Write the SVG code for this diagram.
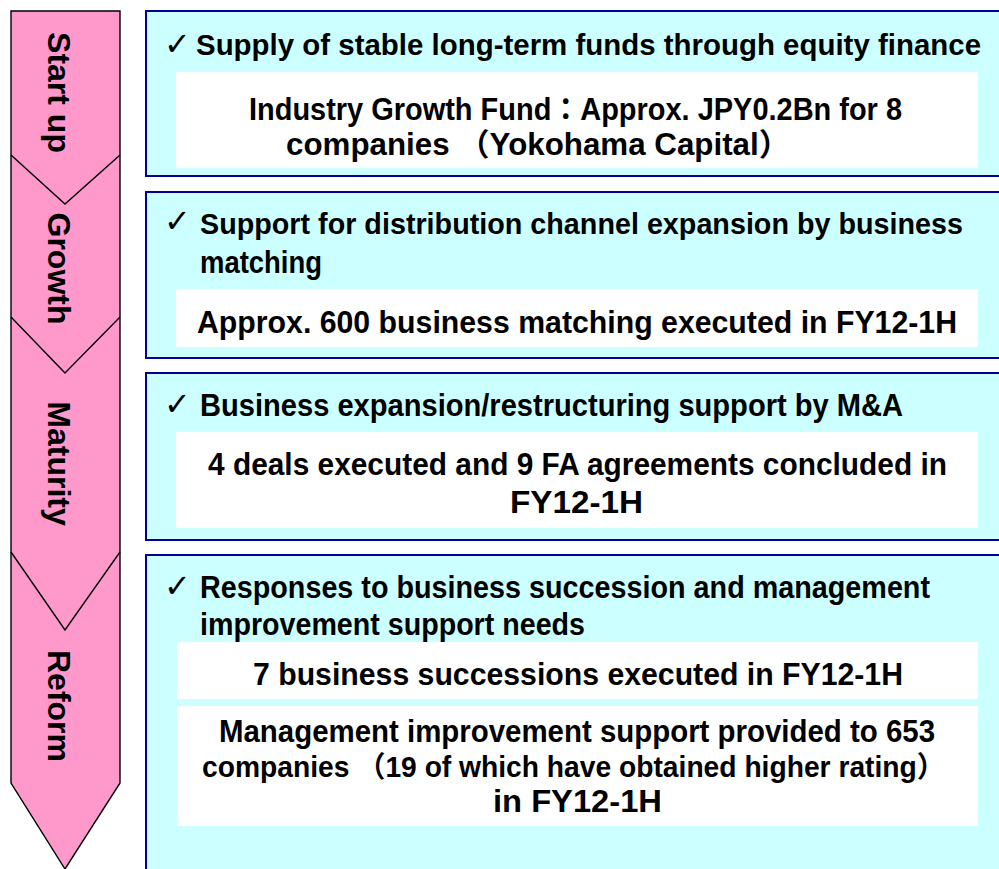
<svg xmlns="http://www.w3.org/2000/svg" width="999" height="869" viewBox="0 0 999 869">
<style>
.stage{fill:#FF99CC;stroke:#000;stroke-width:1.4;stroke-linejoin:miter}
.sep{fill:none;stroke:#000;stroke-width:1.4}
.lbl{font-family:"Liberation Sans",Arial,sans-serif;font-weight:bold;font-size:32px;fill:#000;text-anchor:middle}
.box{fill:#CCFFFF;stroke:#000099;stroke-width:2}
.inner{fill:#FFFFFF;stroke:none}
.t{font-family:"Liberation Sans","Noto Sans CJK JP",Arial,sans-serif;font-weight:bold;font-size:31px;fill:#000}
.s{font-size:29px}
.chk{font-family:"DejaVu Sans",sans-serif;font-size:32px;fill:#000}
</style>
<rect width="999" height="869" fill="#FFFFFF"/>
<g id="stages">
<polygon class="stage" points="11,11 120,11 120,783 65,869 11,783"/>
<polyline class="sep" points="11,155 65,204 120,155"/>
<polyline class="sep" points="11,317 65,373 120,317"/>
<polyline class="sep" points="11,552 65,630 120,552"/>
</g>
<g id="stage-startup"><text class="lbl" transform="translate(48,92.5) rotate(90)">Start up</text></g>
<g id="stage-growth"><text class="lbl" transform="translate(48,268.5) rotate(90)">Growth</text></g>
<g id="stage-maturity"><text class="lbl" transform="translate(48,463.5) rotate(90)">Maturity</text></g>
<g id="stage-reform"><text class="lbl" transform="translate(48,706) rotate(90)">Reform</text></g>
<g id="connectors"></g>
<g id="box-startup">
<rect class="box" x="146" y="11" width="856" height="165"/>
<rect class="inner" x="176" y="72" width="802" height="96"/>
<text class="chk" x="164" y="55">✓</text>
<text class="t s" x="196" y="55" textLength="785" lengthAdjust="spacingAndGlyphs">Supply of stable long-term funds through equity finance</text>
<text class="t" x="249" y="120" textLength="653" lengthAdjust="spacingAndGlyphs">Industry Growth Fund：Approx. JPY0.2Bn for 8</text>
<text class="t" x="286" y="155" textLength="504" lengthAdjust="spacingAndGlyphs">companies （Yokohama Capital）</text>
</g>
<g id="box-growth">
<rect class="box" x="146" y="192" width="856" height="166"/>
<rect class="inner" x="176" y="289" width="802" height="58"/>
<text class="chk" x="164" y="232">✓</text>
<text class="t s" x="200" y="234" textLength="763" lengthAdjust="spacingAndGlyphs">Support for distribution channel expansion by business</text>
<text class="t" x="200" y="273" textLength="122" lengthAdjust="spacingAndGlyphs">matching</text>
<text class="t" x="197" y="333" textLength="760" lengthAdjust="spacingAndGlyphs">Approx. 600 business matching executed in FY12-1H</text>
</g>
<g id="box-maturity">
<rect class="box" x="146" y="373" width="856" height="167"/>
<rect class="inner" x="176" y="432" width="802" height="96"/>
<text class="chk" x="164" y="415">✓</text>
<text class="t" x="200" y="416" textLength="703" lengthAdjust="spacingAndGlyphs">Business expansion/restructuring support by M&amp;A</text>
<text class="t" x="208" y="475" textLength="739" lengthAdjust="spacingAndGlyphs">4 deals executed and 9 FA agreements concluded in</text>
<text class="t" x="510" y="513" textLength="133" lengthAdjust="spacingAndGlyphs">FY12-1H</text>
</g>
<g id="box-reform">
<rect class="box" x="146" y="555" width="856" height="330"/>
<rect class="inner" x="177" y="642" width="801" height="57"/>
<rect class="inner" x="177" y="706" width="801" height="120"/>
<text class="chk" x="164" y="597">✓</text>
<text class="t" x="200" y="598" textLength="730" lengthAdjust="spacingAndGlyphs">Responses to business succession and management</text>
<text class="t" x="200" y="635" textLength="385" lengthAdjust="spacingAndGlyphs">improvement support needs</text>
<text class="t" x="253" y="685" textLength="650" lengthAdjust="spacingAndGlyphs">7 business successions executed in FY12-1H</text>
<text class="t" x="219" y="742" textLength="716" lengthAdjust="spacingAndGlyphs">Management improvement support provided to 653</text>
<text class="t s" x="202" y="777" textLength="743" lengthAdjust="spacingAndGlyphs">companies （19 of which have obtained higher rating）</text>
<text class="t" x="493" y="812" textLength="169" lengthAdjust="spacingAndGlyphs">in FY12-1H</text>
</g>
</svg>
